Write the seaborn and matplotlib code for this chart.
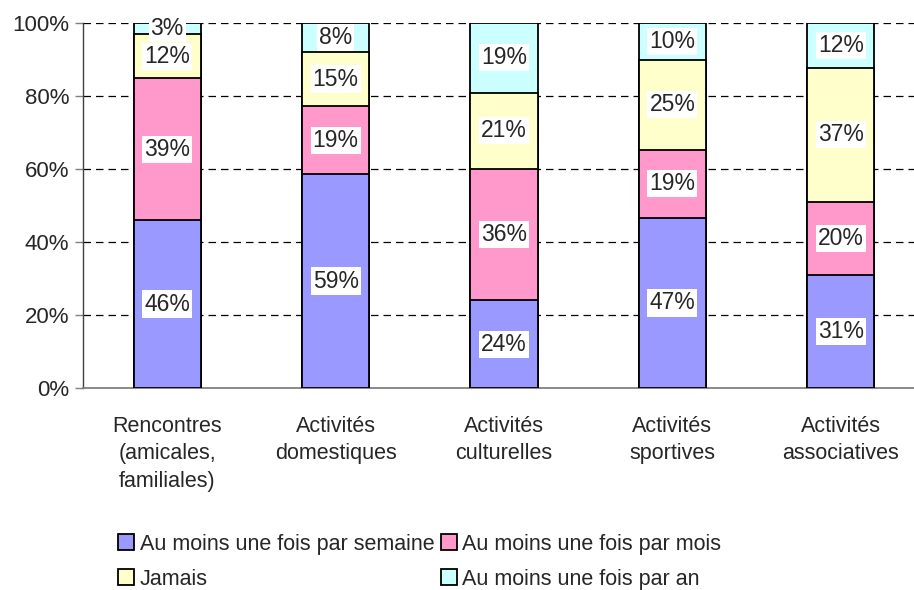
import matplotlib
matplotlib.use("Agg")
import matplotlib.pyplot as plt
import seaborn as sns
import numpy as np
import pandas as pd
from matplotlib.patches import Patch

categories = ["Rencontres\n(amicales,\nfamiliales)", "Activités\ndomestiques",
              "Activités\nculturelles", "Activités\nsportives", "Activités\nassociatives"]
semaine = [46.0, 58.6, 24.0, 46.6, 31.0]
mois = [38.9, 18.6, 36.0, 18.7, 19.9]
jamais = [12.0, 14.9, 20.9, 24.6, 36.9]
an = [3.1, 7.9, 19.1, 10.1, 12.2]
series_names = ["Au moins une fois par semaine", "Au moins une fois par mois",
                "Jamais", "Au moins une fois par an"]
colors = ["#9999FF", "#FF99CC", "#FFFFCC", "#CCFFFF"]
yticks = [0, 20, 40, 60, 80, 100]
ytick_labels = ["0%", "20%", "40%", "60%", "80%", "100%"]

sns.set_style("white")
plt.rcParams["font.family"] = ["Liberation Sans", "DejaVu Sans"]

fig = plt.figure(figsize=(9.14, 5.90), dpi=100)
ax = fig.add_axes([83 / 914, (590 - 388) / 590, (925 - 83) / 914, 365 / 590])

series = [semaine, mois, jamais, an]
cum = np.cumsum(np.array(series), axis=0)
df = pd.DataFrame({"cat": categories})
# draw from the top (cumulative) down so lower segments overlay
for i in range(3, -1, -1):
    df["v"] = cum[i]
    sns.barplot(data=df, x="cat", y="v", color=colors[i], saturation=1,
                edgecolor="black", linewidth=1.3, width=0.4, ax=ax, zorder=3)

# labels
for i in range(4):
    for j in range(len(categories)):
        bottom = cum[i][j] - series[i][j]
        mid = bottom + series[i][j] / 2
        ax.text(j, mid, f"{int(round(series[i][j]))}%", ha="center", va="center",
                fontsize=16.5, zorder=5,
                bbox=dict(facecolor="white", edgecolor="none", pad=1.5))

ax.set_ylim(0, 100)
ax.set_xlim(-0.5, 4.5)
ax.set_yticks(yticks)
ax.set_yticklabels(ytick_labels, fontsize=16)
ax.set_xlabel("")
ax.set_ylabel("")
ax.set_xticks(range(len(categories)))
ax.set_xticklabels(categories, fontsize=15.5, linespacing=1.4)
ax.set_xticks(np.arange(-0.5, 5, 1), minor=True)
ax.tick_params(axis="x", which="major", length=0, pad=20)
ax.tick_params(axis="x", which="minor", length=7, color="#808080", width=1, direction="out")
ax.tick_params(axis="y", length=6, color="#808080", width=1, direction="out", pad=4, left=True)

for y in yticks[1:]:
    ax.axhline(y, color="black", linewidth=0.9, linestyle=(0, (6, 4)), zorder=1)

for s in ["top", "right"]:
    ax.spines[s].set_visible(False)
ax.spines["left"].set_color("#404040")
ax.spines["left"].set_linewidth(1)
ax.spines["bottom"].set_color("#808080")
ax.spines["bottom"].set_linewidth(1.3)

handles = [Patch(facecolor=colors[k], edgecolor="black", linewidth=1.3) for k in [0, 2, 1, 3]]
labels = [series_names[k] for k in [0, 2, 1, 3]]
fig.legend(handles, labels, ncol=2, loc="upper left", bbox_to_anchor=(0.12, 0.11),
           frameon=False, handlelength=0.75, handleheight=0.75, handletextpad=0.25,
           columnspacing=0.3, labelspacing=0.65, borderaxespad=0,
           prop={"size": 15.5})

fig.savefig("out.png", dpi=100)
